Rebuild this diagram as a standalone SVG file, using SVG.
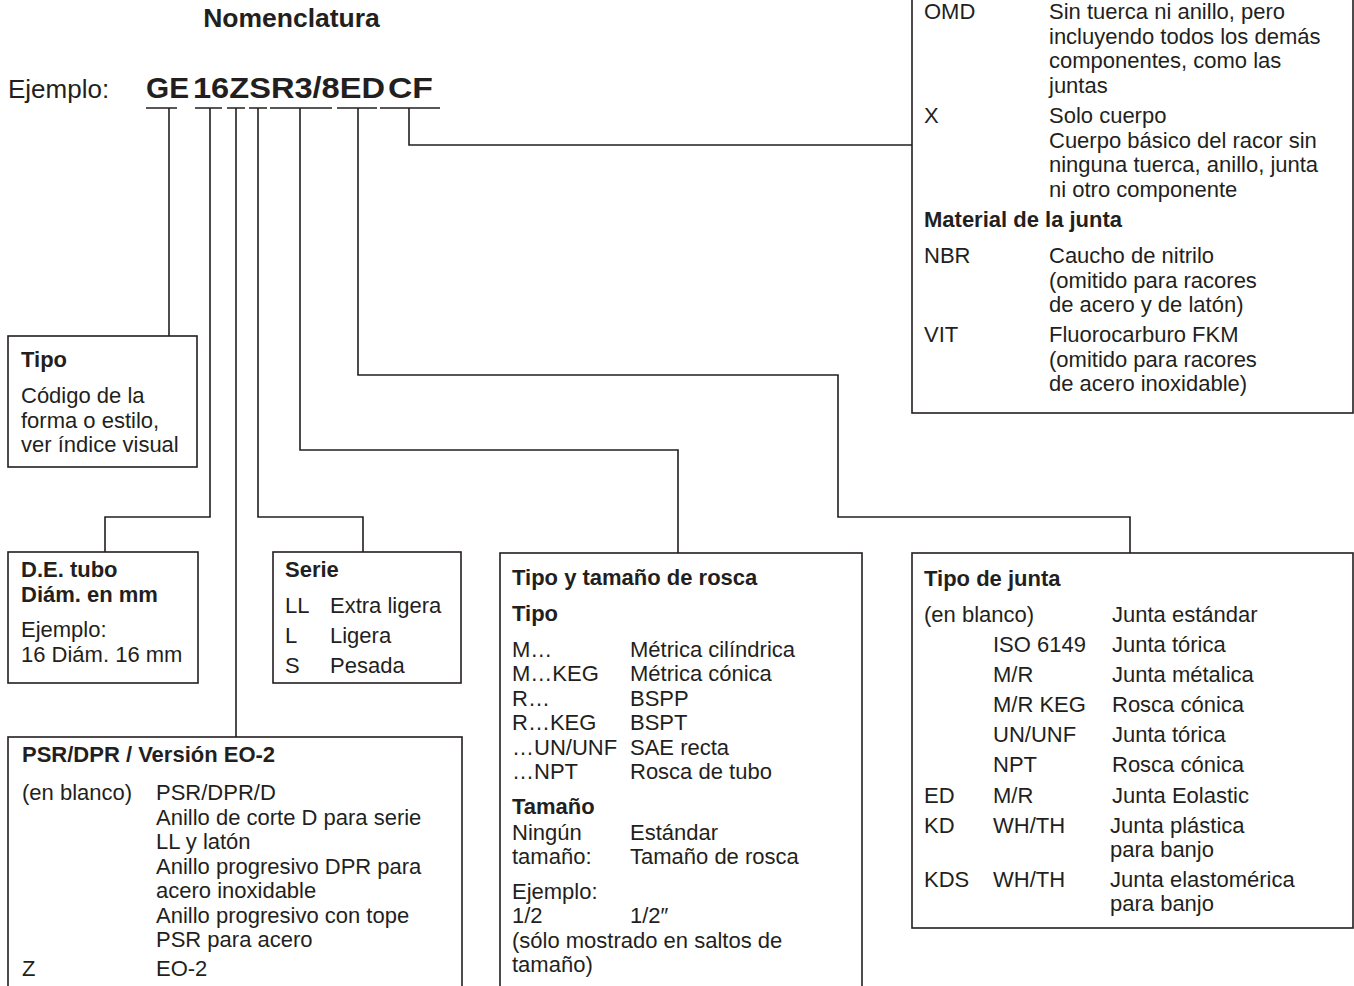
<svg xmlns="http://www.w3.org/2000/svg" width="1354" height="986" viewBox="0 0 1354 986">
<style>
text{font-family:"Liberation Sans",Arial,Helvetica,sans-serif;fill:#231f20}
.t{font-size:22px}
.b{font-size:22px;font-weight:bold}
.box{fill:#fff;stroke:#231f20;stroke-width:1.6}
.ln{fill:none;stroke:#231f20;stroke-width:1.6}
</style>
<rect width="1354" height="986" fill="#fff"/>
<g id="header">
<text x="291.5" y="27" font-size="26.5" font-weight="bold" text-anchor="middle">Nomenclatura</text>
<text x="8" y="98" font-size="26">Ejemplo:</text>
<text x="146" y="98" font-size="30" font-weight="bold" textLength="43" lengthAdjust="spacingAndGlyphs">GE</text>
<text x="193" y="98" font-size="30" font-weight="bold" textLength="192" lengthAdjust="spacingAndGlyphs">16ZSR3/8ED</text>
<text x="388" y="98" font-size="30" font-weight="bold" textLength="45" lengthAdjust="spacingAndGlyphs">CF</text>
</g>
<g id="connectors" class="ln">
<path d="M146 108H177M195 108H222M227 108H245M249 108H267M270 108H332M337 108H377M380 108H440"/>
<path d="M169 108V336"/>
<path d="M210 108V517H105V552"/>
<path d="M236 108V737"/>
<path d="M258 108V517H363V552"/>
<path d="M300 108V450H678V553"/>
<path d="M358 108V375H838V517H1130V553"/>
<path d="M409 108V145H912"/>
</g>
<g id="node-material">
<rect class="box" x="912" y="-10" width="441" height="423"/>
<text class="t" x="924" y="19">OMD</text>
<text class="t" x="1049" y="19">Sin tuerca ni anillo, pero</text>
<text class="t" x="1049" y="43.5">incluyendo todos los demás</text>
<text class="t" x="1049" y="68">componentes, como las</text>
<text class="t" x="1049" y="92.5">juntas</text>
<text class="t" x="924" y="123">X</text>
<text class="t" x="1049" y="123">Solo cuerpo</text>
<text class="t" x="1049" y="147.5">Cuerpo básico del racor sin</text>
<text class="t" x="1049" y="172">ninguna tuerca, anillo, junta</text>
<text class="t" x="1049" y="196.5">ni otro componente</text>
<text class="b" x="924" y="227">Material de la junta</text>
<text class="t" x="924" y="263">NBR</text>
<text class="t" x="1049" y="263">Caucho de nitrilo</text>
<text class="t" x="1049" y="287.5">(omitido para racores</text>
<text class="t" x="1049" y="312">de acero y de latón)</text>
<text class="t" x="924" y="342">VIT</text>
<text class="t" x="1049" y="342">Fluorocarburo FKM</text>
<text class="t" x="1049" y="366.5">(omitido para racores</text>
<text class="t" x="1049" y="391">de acero inoxidable)</text>
</g>
<g id="node-tipo">
<rect class="box" x="8" y="336" width="189" height="131"/>
<text class="b" x="21" y="367">Tipo</text>
<text class="t" x="21" y="403">Código de la</text>
<text class="t" x="21" y="427.5">forma o estilo,</text>
<text class="t" x="21" y="452">ver índice visual</text>
</g>
<g id="node-de-tubo">
<rect class="box" x="8" y="552" width="190" height="131"/>
<text class="b" x="21" y="577">D.E. tubo</text>
<text class="b" x="21" y="602">Diám. en mm</text>
<text class="t" x="21" y="637">Ejemplo:</text>
<text class="t" x="21" y="662">16 Diám. 16 mm</text>
</g>
<g id="node-serie">
<rect class="box" x="273" y="552" width="188" height="131"/>
<text class="b" x="285" y="577">Serie</text>
<text class="t" x="285" y="613">LL</text>
<text class="t" x="330" y="613">Extra ligera</text>
<text class="t" x="285" y="643">L</text>
<text class="t" x="330" y="643">Ligera</text>
<text class="t" x="285" y="673">S</text>
<text class="t" x="330" y="673">Pesada</text>
</g>
<g id="node-psr">
<rect class="box" x="8" y="737" width="454" height="270"/>
<text class="b" x="22" y="762">PSR/DPR / Versión EO-2</text>
<text class="t" x="22" y="800">(en blanco)</text>
<text class="t" x="156" y="800">PSR/DPR/D</text>
<text class="t" x="156" y="824.5">Anillo de corte D para serie</text>
<text class="t" x="156" y="849">LL y latón</text>
<text class="t" x="156" y="873.5">Anillo progresivo DPR para</text>
<text class="t" x="156" y="898">acero inoxidable</text>
<text class="t" x="156" y="922.5">Anillo progresivo con tope</text>
<text class="t" x="156" y="947">PSR para acero</text>
<text class="t" x="22" y="976">Z</text>
<text class="t" x="156" y="976">EO-2</text>
</g>
<g id="node-rosca">
<rect class="box" x="500" y="553" width="362" height="460"/>
<text class="b" x="512" y="585">Tipo y tamaño de rosca</text>
<text class="b" x="512" y="621">Tipo</text>
<text class="t" x="512" y="657">M…</text>
<text class="t" x="630" y="657">Métrica cilíndrica</text>
<text class="t" x="512" y="681">M…KEG</text>
<text class="t" x="630" y="681">Métrica cónica</text>
<text class="t" x="512" y="705.5">R…</text>
<text class="t" x="630" y="705.5">BSPP</text>
<text class="t" x="512" y="730">R…KEG</text>
<text class="t" x="630" y="730">BSPT</text>
<text class="t" x="512" y="754.5">…UN/UNF</text>
<text class="t" x="630" y="754.5">SAE recta</text>
<text class="t" x="512" y="779">…NPT</text>
<text class="t" x="630" y="779">Rosca de tubo</text>
<text class="b" x="512" y="814">Tamaño</text>
<text class="t" x="512" y="840">Ningún</text>
<text class="t" x="630" y="840">Estándar</text>
<text class="t" x="512" y="864">tamaño:</text>
<text class="t" x="630" y="864">Tamaño de rosca</text>
<text class="t" x="512" y="899">Ejemplo:</text>
<text class="t" x="512" y="923">1/2</text>
<text class="t" x="630" y="923">1/2″</text>
<text class="t" x="512" y="948">(sólo mostrado en saltos de</text>
<text class="t" x="512" y="972">tamaño)</text>
</g>
<g id="node-junta">
<rect class="box" x="912" y="553" width="441" height="375"/>
<text class="b" x="924" y="586">Tipo de junta</text>
<text class="t" x="924" y="622">(en blanco)</text>
<text class="t" x="1112" y="622">Junta estándar</text>
<text class="t" x="993" y="652">ISO 6149</text>
<text class="t" x="1112" y="652">Junta tórica</text>
<text class="t" x="993" y="682">M/R</text>
<text class="t" x="1112" y="682">Junta métalica</text>
<text class="t" x="993" y="712">M/R KEG</text>
<text class="t" x="1112" y="712">Rosca cónica</text>
<text class="t" x="993" y="742">UN/UNF</text>
<text class="t" x="1112" y="742">Junta tórica</text>
<text class="t" x="993" y="772">NPT</text>
<text class="t" x="1112" y="772">Rosca cónica</text>
<text class="t" x="924" y="803">ED</text>
<text class="t" x="993" y="803">M/R</text>
<text class="t" x="1112" y="803">Junta Eolastic</text>
<text class="t" x="924" y="833">KD</text>
<text class="t" x="993" y="833">WH/TH</text>
<text class="t" x="1110" y="833">Junta plástica</text>
<text class="t" x="1110" y="857">para banjo</text>
<text class="t" x="924" y="887">KDS</text>
<text class="t" x="993" y="887">WH/TH</text>
<text class="t" x="1110" y="887">Junta elastomérica</text>
<text class="t" x="1110" y="911">para banjo</text>
</g>
</svg>
